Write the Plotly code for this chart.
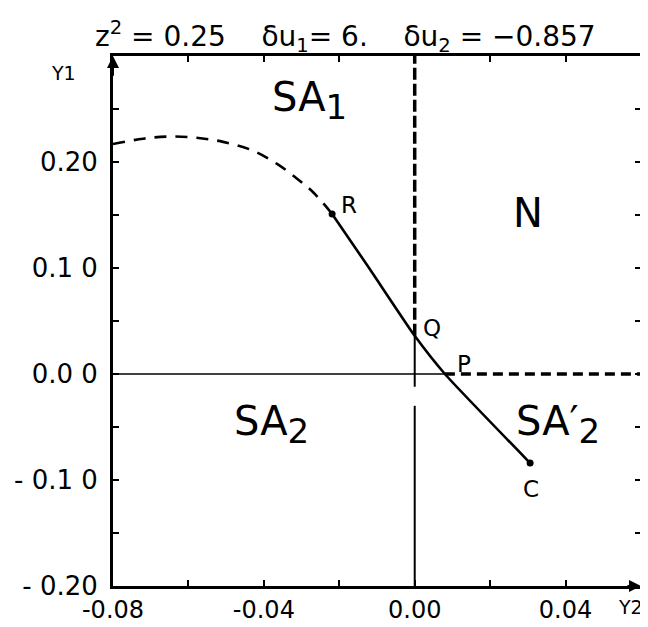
import plotly.graph_objects as go

# ---- data ----
dash_x = [-0.080, -0.0720, -0.0654, -0.0582, -0.0508, -0.0431, -0.0364, -0.0311, -0.0268, -0.0219]
dash_y = [0.217, 0.222, 0.224, 0.223, 0.219, 0.211, 0.198, 0.184, 0.171, 0.151]
solid_x = [-0.0219, -0.0121, 0.0, 0.008, 0.0306]
solid_y = [0.151, 0.100, 0.036, 0.0, -0.084]
point_names = ["R", "Q", "P", "C"]
point_x = [-0.0219, 0.0, 0.008, 0.0306]
point_y = [0.151, 0.036, 0.0, -0.084]

x_tickvals = [-0.08, -0.04, 0.0, 0.04]
x_ticktext = ["-0.08", "-0.04", "0.00", "0.04"]
y_tickvals = [-0.20, -0.10, 0.0, 0.10, 0.20]
y_ticktext = ["- 0.20", "- 0.1 0", "0.0 0", "0.1 0", "0.20"]

XMIN, XMAX = -0.08, 0.060
YMIN, YMAX = -0.20, 0.30

SUB = '<sub><span style="font-size:34px">{}</span></sub>'
regions = ["SA" + SUB.format("1"), "N", "SA" + SUB.format("2"), "SA\u2032" + SUB.format("2")]
region_x = [-0.028, 0.030, -0.038, 0.038]
region_y = [0.258, 0.152, -0.048, -0.048]

fig = go.Figure()

# Y1 = 0 line: thin solid left of P, thick dashed right of P
fig.add_trace(go.Scatter(x=[XMIN, point_x[2]], y=[0, 0], mode="lines",
                         line=dict(color="black", width=1.6), hoverinfo="skip"))
fig.add_trace(go.Scatter(x=[point_x[2], XMAX], y=[0, 0], mode="lines",
                         line=dict(color="black", width=3.5, dash="10px,6px"), hoverinfo="skip"))
# Y2 = 0 line: thick dashed above Q, thin solid below with a small gap
fig.add_trace(go.Scatter(x=[0, 0], y=[point_y[1], YMAX], mode="lines",
                         line=dict(color="black", width=3.5, dash="12px,4px"), hoverinfo="skip"))
fig.add_trace(go.Scatter(x=[0, 0, None, 0, 0], y=[point_y[1], -0.012, None, -0.030, YMIN],
                         mode="lines", line=dict(color="black", width=2), hoverinfo="skip"))

# dashed continuation curve
fig.add_trace(go.Scatter(x=dash_x, y=dash_y, mode="lines", line_shape="spline",
                         line=dict(color="black", width=2.6, dash="12px,9px"), hoverinfo="skip"))
# solid path R-Q-P-C
fig.add_trace(go.Scatter(x=solid_x, y=solid_y, mode="lines", line_shape="spline",
                         line=dict(color="black", width=2.6, smoothing=0.5), hoverinfo="skip"))
# end dots
fig.add_trace(go.Scatter(x=[point_x[0], point_x[3]], y=[point_y[0], point_y[3]], mode="markers",
                         marker=dict(color="black", size=7), hoverinfo="skip"))

font_main = "DejaVu Sans, Liberation Sans, Arial, sans-serif"

# point labels
lab_dx = [17, 17, 19, 1]
lab_dy = [-9, -8, -10, 26]
for n, x, y, dx, dy in zip(point_names, point_x, point_y, lab_dx, lab_dy):
    fig.add_annotation(x=x, y=y, text=n, showarrow=False, xshift=dx, yshift=-dy,
                       font=dict(size=23, color="black", family=font_main))

# region labels
for t, x, y in zip(regions, region_x, region_y):
    fig.add_annotation(x=x, y=y, text=t, showarrow=False,
                       font=dict(size=40, color="black", family=font_main))

# title-like parameter line
sp = "\u00a0" * 4
fig.add_annotation(xref="paper", yref="paper", x=0.44, y=1.0, yshift=-3,
                   text="z<sup>2</sup> = 0.25" + sp + "\u03b4u<sub>1</sub>= 6." + sp +
                        "\u03b4u<sub>2</sub> = \u22120.857",
                   showarrow=False, font=dict(size=28, color="black", family=font_main),
                   xanchor="center", yanchor="bottom")
# axis names
fig.add_annotation(xref="paper", yref="paper", x=0, y=1, xshift=-64, yshift=-4, text="Y1",
                   showarrow=False, font=dict(size=19, color="black", family=font_main),
                   xanchor="left", yanchor="top")
fig.add_annotation(xref="paper", yref="paper", x=1, y=0, xshift=4, yshift=-8, text="Y2",
                   showarrow=False, font=dict(size=19, color="black", family=font_main),
                   xanchor="right", yanchor="top")
# small arrow heads at axis ends
fig.add_annotation(x=XMIN, y=YMAX, ax=XMIN, ay=YMAX - 0.02, xref="x", yref="y", axref="x", ayref="y",
                   text="", showarrow=True, arrowhead=2, arrowsize=1.2, arrowwidth=2, arrowcolor="black")
fig.add_annotation(x=XMAX, y=YMIN, ax=XMAX - 0.004, ay=YMIN, xref="x", yref="y", axref="x", ayref="y",
                   text="", showarrow=True, arrowhead=2, arrowsize=1.2, arrowwidth=2, arrowcolor="black")

axis_common = dict(showgrid=False, zeroline=False, showline=True, linecolor="black", linewidth=3,
                   mirror="ticks", ticks="inside", ticklen=6, tickwidth=2, tickcolor="black",
                   automargin=False)
fig.update_xaxes(range=[XMIN, XMAX], tickvals=x_tickvals, ticktext=x_ticktext,
                 tickfont=dict(size=24, color="black", family=font_main),
                 minor=dict(ticks="inside", tick0=0, dtick=0.02, ticklen=6, tickwidth=2, tickcolor="black"),
                 **axis_common)
fig.update_yaxes(range=[YMIN, YMAX], tickvals=y_tickvals, ticktext=y_ticktext, ticklabelstandoff=7,
                 tickfont=dict(size=26, color="black", family=font_main),
                 minor=dict(ticks="inside", tick0=0, dtick=0.05, ticklen=6, tickwidth=2, tickcolor="black"),
                 **axis_common)

# page body has an 8px default margin, so the figure is 8px smaller and margins shifted
fig.update_layout(width=640, height=619, margin=dict(l=105, r=7, t=48, b=41),
                  paper_bgcolor="white", plot_bgcolor="white", showlegend=False)

fig.write_html("out.html")
